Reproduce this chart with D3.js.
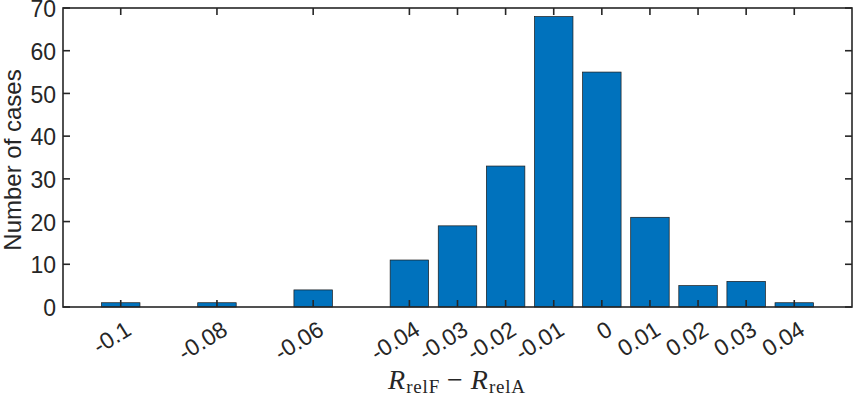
<!DOCTYPE html>
<html lang="en">
  <head>
    <style>
      body { margin: 0; background: #fff; }
      .bar { fill: #0072bd; stroke: #1a1a1a; stroke-width: 0.7; }
      text { font-family: Arial, "Liberation Sans", sans-serif; fill: #262626; }
    </style>
    <script src="https://d3js.org/d3.v7.min.js"></script>
  </head>
  <body>
    <svg width="854" height="399"></svg>
    <script>
      // histogram of R_relF - R_relA
      const binCenters = [-0.1, -0.08, -0.06, -0.04, -0.03, -0.02, -0.01, 0, 0.01, 0.02, 0.03, 0.04];
      const counts = [1, 1, 4, 11, 19, 33, 68, 55, 21, 5, 6, 1];
      const xTickLabels = ["-0.1", "-0.08", "-0.06", "-0.04", "-0.03", "-0.02", "-0.01", "0", "0.01", "0.02", "0.03", "0.04"];
      const yTicks = [0, 10, 20, 30, 40, 50, 60, 70];

      const svg = d3.select("svg");
      const boxLeft = 63, boxRight = 852, boxTop = 8, boxBottom = 307;
      const barWidth = 0.008;
      const tickLen = 7;
      const axisColor = "#262626";

      const x = d3.scaleLinear().domain([-0.112, 0.052]).range([boxLeft, boxRight]);
      const y = d3.scaleLinear().domain([0, 70]).range([boxBottom, boxTop]);

      const data = binCenters.map(function (c, i) {
        return { c: c, n: counts[i] };
      });

      // bars
      svg.selectAll(".bar")
        .data(data)
        .enter()
        .append("rect")
        .attr("class", "bar")
        .attr("x", function (d) { return x(d.c - barWidth / 2); })
        .attr("width", function (d) { return x(d.c + barWidth / 2) - x(d.c - barWidth / 2); })
        .attr("y", function (d) { return y(d.n); })
        .attr("height", function (d) { return y(0) - y(d.n); });

      // ticks inside the box (bottom, top, left, right)
      const g = svg.append("g").attr("stroke", axisColor).attr("stroke-width", 1.6);
      binCenters.forEach(function (c) {
        g.append("line").attr("x1", x(c)).attr("x2", x(c)).attr("y1", boxBottom).attr("y2", boxBottom - tickLen);
        g.append("line").attr("x1", x(c)).attr("x2", x(c)).attr("y1", boxTop).attr("y2", boxTop + tickLen);
      });
      yTicks.forEach(function (t) {
        g.append("line").attr("x1", boxLeft).attr("x2", boxLeft + tickLen).attr("y1", y(t)).attr("y2", y(t));
        g.append("line").attr("x1", boxRight).attr("x2", boxRight - tickLen).attr("y1", y(t)).attr("y2", y(t));
      });
      g.append("rect")
        .attr("x", boxLeft).attr("y", boxTop)
        .attr("width", boxRight - boxLeft).attr("height", boxBottom - boxTop)
        .attr("fill", "none");

      // y tick labels
      svg.selectAll(".ylab")
        .data(yTicks)
        .enter()
        .append("text")
        .attr("class", "ylab")
        .attr("x", boxLeft - 7)
        .attr("y", function (d) { return y(d); })
        .attr("dy", "0.4em")
        .attr("text-anchor", "end")
        .attr("font-size", 23)
        .text(function (d) { return d; });

      // x tick labels, rotated
      svg.selectAll(".xlab")
        .data(binCenters)
        .enter()
        .append("text")
        .attr("class", "xlab")
        .attr("transform", function (d) { return "translate(" + (x(d) + 3) + "," + (boxBottom + 12) + ") rotate(-32)"; })
        .attr("text-anchor", "end")
        .attr("dy", "0.75em")
        .attr("font-size", 23)
        .text(function (d, i) { return xTickLabels[i]; });

      // y axis title
      svg.append("text")
        .attr("transform", "translate(21,160) rotate(-90)")
        .attr("text-anchor", "middle")
        .attr("font-size", 24)
        .text("Number of cases");

      // x axis title (latex-like)
      const xt = svg.append("text")
        .attr("x", 457)
        .attr("y", 389)
        .attr("text-anchor", "middle")
        .style("font-family", "'Liberation Serif', 'DejaVu Serif', serif")
        .attr("font-size", 28);
      xt.append("tspan").attr("font-style", "italic").text("R");
      xt.append("tspan").attr("font-size", 19).attr("dy", 4).attr("dx", 1).attr("letter-spacing", 0.8).text("relF");
      xt.append("tspan").attr("dy", -4).attr("dx", 7).text("\u2212");
      xt.append("tspan").attr("font-style", "italic").attr("dx", 8).text("R");
      xt.append("tspan").attr("font-size", 19).attr("dy", 4).attr("dx", 1).attr("letter-spacing", 0.8).text("relA");
    </script>
  </body>
</html>
